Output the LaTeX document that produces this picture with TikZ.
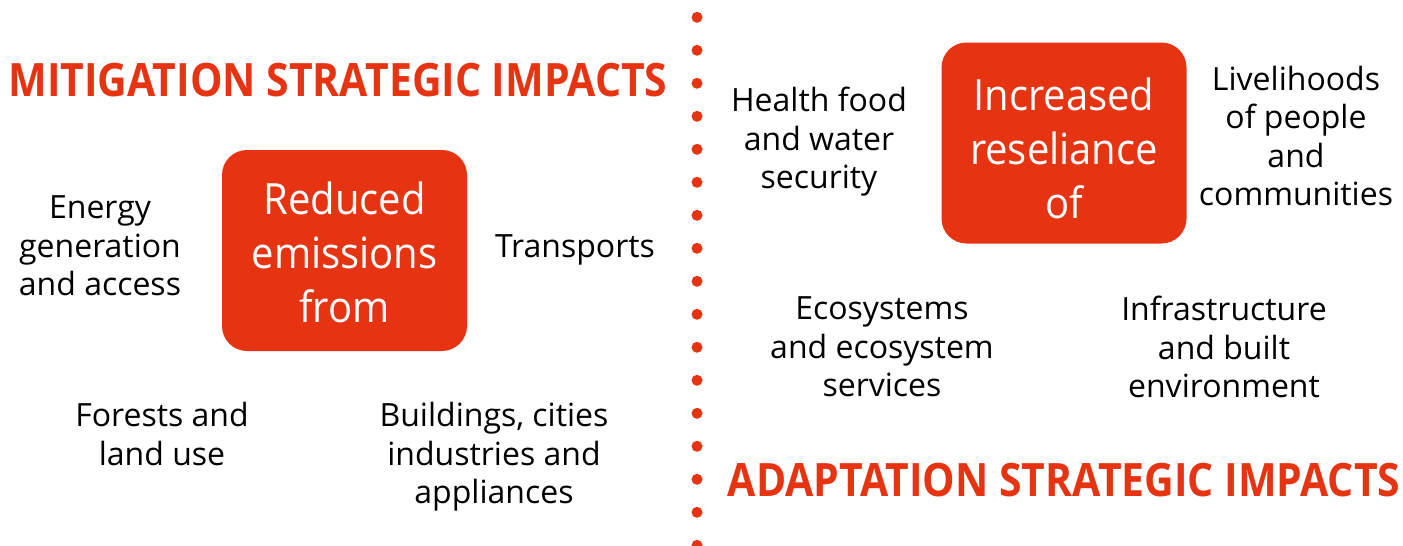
\documentclass[tikz,border=0pt]{standalone}
\usepackage{fontspec}
\setmainfont{Open Sans}
\newfontfamily\headfont[FakeStretch=0.89]{Open Sans}
\newfontfamily\boxfont[FakeStretch=0.93]{Open Sans}
\definecolor{accent}{RGB}{230,51,18}
\begin{document}
\begin{tikzpicture}[x=1pt,y=-1pt,
  heading/.style={text=accent,font=\headfont\bfseries\fontsize{46}{50}\selectfont,inner sep=0pt,anchor=center},
  corebox/.style={fill=accent,rounded corners=25pt,minimum width=245pt,minimum height=201pt,inner sep=0pt},
  boxtext/.style={text=white,align=center,font=\boxfont\fontsize{43}{54}\selectfont,inner sep=0pt},
  item/.style={align=center,font=\fontsize{32}{38.5}\selectfont,inner sep=0pt,text=black}]
\useasboundingbox (0,0) rectangle (1403,546);
\foreach \i in {0,...,16} \fill[accent] (697,17.3+33*\i) circle (5.5pt);
\node[heading] (mit) at (338,80) {MITIGATION STRATEGIC IMPACTS};
\node[heading] (ada) at (1064,480) {ADAPTATION STRATEGIC IMPACTS};
\node[corebox,label={[boxtext,yshift=-2pt]center:Reduced\\emissions\\from}] (red) at (344.5,250.5) {};
\node[corebox,label={[boxtext,yshift=-5pt]center:Increased\\reseliance\\of}] (inc) at (1064,143) {};
\node[item] (energy) at (100,246) {Energy\\generation\\and access};
\node[item] (trans) at (575,250) {Transports};
\node[item] (forest) at (162,434) {Forests and\\land use};
\node[item] (build) at (494,457) {Buildings, cities\\industries and\\appliances};
\node[item] (health) at (819,142) {Health food\\and water\\security};
\node[item] (live) at (1296,136) {Livelihoods\\of people\\and\\communities};
\node[item] (eco) at (882,347) {Ecosystems\\and ecosystem\\services};
\node[item] (infra) at (1224,347) {Infrastructure\\and built\\environment};
\end{tikzpicture}
\end{document}
